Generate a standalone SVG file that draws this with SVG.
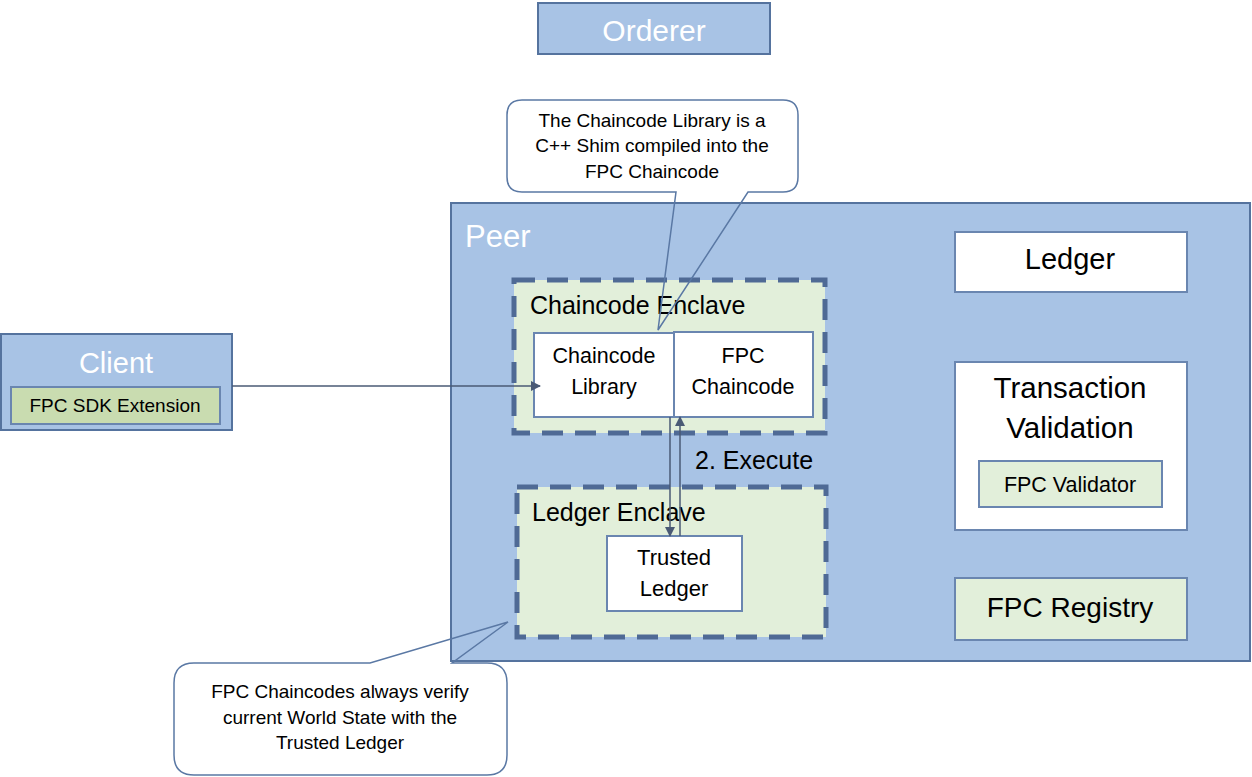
<svg xmlns="http://www.w3.org/2000/svg" width="1252" height="777" viewBox="0 0 1252 777">
<defs>
<style>
text{font-family:"Liberation Sans",Arial,sans-serif;fill:#000}
.blue{fill:#A8C3E5;stroke:#55739E;stroke-width:2}
.white{fill:#fff;stroke:#6A86B0;stroke-width:2}
.green{fill:#E2EFDA;stroke:#6A86B0;stroke-width:2}
.enclave{fill:#E2EFDA;stroke:#4F6A95;stroke-width:5;stroke-dasharray:21 12}
.wt{fill:#fff}
.c{text-anchor:middle}
.callout{fill:none;stroke:#5A78A4;stroke-width:1.5}
.conn{stroke:#4A5A75;stroke-width:1.5;fill:none}
</style>
<marker id="ah" markerWidth="10" markerHeight="10" refX="9" refY="5" orient="auto" markerUnits="userSpaceOnUse">
<path d="M0,0 L10,5 L0,10 z" fill="#4A5A75"/>
</marker>
</defs>
<rect width="1252" height="777" fill="#fff"/>

<g id="orderer">
<rect class="blue" x="538" y="3" width="232" height="51"/>
<text class="wt c" x="654" y="41" font-size="30">Orderer</text>
</g>

<g id="peer">
<rect class="blue" x="451" y="203" width="799" height="458"/>
<text class="wt" x="465" y="247" font-size="31">Peer</text>
</g>

<g id="chaincode-enclave">
<rect class="enclave" x="514" y="280" width="311" height="153"/>
<text x="530" y="314" font-size="25">Chaincode Enclave</text>
</g>

<g id="chaincode-library">
<rect class="white" x="534" y="333" width="140" height="84"/>
<text class="c" x="604" y="363" font-size="21.5">Chaincode</text>
<text class="c" x="604" y="394" font-size="21.5">Library</text>
</g>

<g id="fpc-chaincode">
<rect class="white" x="674" y="332" width="139" height="85"/>
<text class="c" x="743" y="363" font-size="21.5">FPC</text>
<text class="c" x="743" y="394" font-size="21.5">Chaincode</text>
</g>

<g id="ledger-enclave">
<rect class="enclave" x="517" y="487" width="309" height="150"/>
<text x="532" y="521" font-size="25">Ledger Enclave</text>
</g>

<g id="trusted-ledger">
<rect class="white" x="607" y="536" width="135" height="75"/>
<text class="c" x="674" y="565" font-size="22">Trusted</text>
<text class="c" x="674" y="596" font-size="22">Ledger</text>
</g>

<g id="ledger">
<rect class="white" x="955" y="232" width="232" height="60"/>
<text class="c" x="1070" y="269" font-size="29">Ledger</text>
</g>

<g id="transaction-validation">
<rect class="white" x="955" y="362" width="232" height="168"/>
<text class="c" x="1070" y="398" font-size="29.5">Transaction</text>
<text class="c" x="1070" y="438" font-size="29.5">Validation</text>
</g>

<g id="fpc-validator">
<rect class="green" x="979" y="461" width="183" height="46"/>
<text class="c" x="1070" y="492" font-size="21.5">FPC Validator</text>
</g>

<g id="fpc-registry">
<rect class="green" x="955" y="578" width="232" height="62"/>
<text class="c" x="1070" y="617" font-size="28">FPC Registry</text>
</g>

<g id="client">
<rect class="blue" x="1" y="334" width="231" height="96"/>
<text class="wt c" x="116" y="373" font-size="29">Client</text>
</g>

<g id="fpc-sdk-extension">
<rect fill="#C9DCB0" stroke="#6A86B0" stroke-width="2" x="11" y="387" width="209" height="37"/>
<text class="c" x="115" y="412" font-size="19">FPC SDK Extension</text>
</g>

<g id="connectors">
<line class="conn" x1="232" y1="386" x2="540" y2="386" marker-end="url(#ah)"/>
<line class="conn" x1="670" y1="417" x2="670" y2="536" marker-end="url(#ah)"/>
<line class="conn" x1="680" y1="536" x2="680" y2="417" marker-end="url(#ah)"/>
<text x="695" y="469" font-size="25">2. Execute</text>
</g>

<g id="callout-top">
<rect x="507" y="100" width="291" height="92" rx="15" fill="#fff"/>
<path class="callout" d="M522,100 H783 Q798,100 798,115 V177 Q798,192 783,192 H748 L658,330 L676,192 H522 Q507,192 507,177 V115 Q507,100 522,100 Z"/>
<text class="c" x="652" y="127" font-size="19">The Chaincode Library is a</text>
<text class="c" x="652" y="152" font-size="19">C++ Shim compiled into the</text>
<text class="c" x="652" y="178" font-size="19">FPC Chaincode</text>
</g>

<g id="callout-bottom">
<rect x="174" y="663" width="333" height="112" rx="20" fill="#fff"/>
<path class="callout" d="M194,663 H370 L508,622 L452,663 H487 Q507,663 507,683 V755 Q507,775 487,775 H194 Q174,775 174,755 V683 Q174,663 194,663 Z"/>
<text class="c" x="340" y="698" font-size="19">FPC Chaincodes always verify</text>
<text class="c" x="340" y="724" font-size="19">current World State with the</text>
<text class="c" x="340" y="749" font-size="19">Trusted Ledger</text>
</g>
</svg>
